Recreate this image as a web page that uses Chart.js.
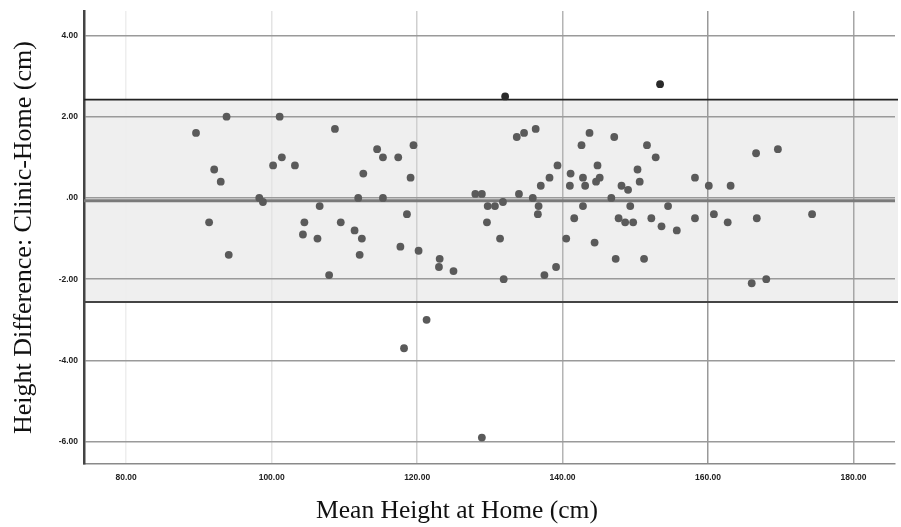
<!DOCTYPE html>
<html lang="en">
<head>
  <meta charset="UTF-8">
  <title>Bland-Altman: Clinic vs Home Height</title>
  <script src="https://cdn.jsdelivr.net/npm/chart.js"></script>
  <style>
    html, body {
      margin: 0;
      background: white;
    }
    canvas {
      display: block;
    }
  </style>
</head>
<body>
  <canvas id="baCanvas" width="901" height="527"></canvas>

  <script>
    // mean of the two measurements (x) and clinic - home difference (y)
    const meanHeight = [
      89.6, 91.4, 92.1, 93.0, 93.8, 94.1, 98.3, 98.8, 100.2, 101.1,
      101.4, 103.2, 104.3, 104.5, 106.3, 106.6, 107.9, 108.7, 109.5, 111.4,
      111.9, 112.1, 112.4, 112.6, 114.5, 115.3, 115.3, 117.4, 117.7, 118.2,
      118.6, 119.1, 119.5, 120.2, 121.3, 123.0, 123.1, 125.0, 128.0, 128.9,
      128.9, 129.6, 129.7, 130.7, 131.4, 131.8, 131.9, 132.1, 133.7, 134.0,
      134.7, 135.9, 136.3, 136.6, 136.7, 137.0, 137.5, 138.2, 139.1, 139.3,
      140.5, 141.0, 141.1, 141.6, 142.6, 142.8, 142.8, 143.1, 143.7, 144.4,
      144.6, 144.8, 145.1, 146.7, 147.1, 147.3, 147.7, 148.1, 148.6, 149.0,
      149.3, 149.7, 150.3, 150.6, 151.2, 151.6, 152.2, 152.8, 153.4, 153.6,
      154.5, 155.7, 158.2, 158.2, 160.1, 160.8, 162.7, 163.1, 166.0, 166.6,
      166.7, 168.0, 169.6, 174.3
    ];
    const heightDiff = [
      1.6, -0.6, 0.7, 0.4, 2.0, -1.4, 0.0, -0.1, 0.8, 2.0,
      1.0, 0.8, -0.9, -0.6, -1.0, -0.2, -1.9, 1.7, -0.6, -0.8,
      0.0, -1.4, -1.0, 0.6, 1.2, 1.0, 0.0, 1.0, -1.2, -3.7,
      -0.4, 0.5, 1.3, -1.3, -3.0, -1.7, -1.5, -1.8, 0.1, 0.1,
      -5.9, -0.6, -0.2, -0.2, -1.0, -0.1, -2.0, 2.5, 1.5, 0.1,
      1.6, 0.0, 1.7, -0.4, -0.2, 0.3, -1.9, 0.5, -1.7, 0.8,
      -1.0, 0.3, 0.6, -0.5, 1.3, 0.5, -0.2, 0.3, 1.6, -1.1,
      0.4, 0.8, 0.5, 0.0, 1.5, -1.5, -0.5, 0.3, -0.6, 0.2,
      -0.2, -0.6, 0.7, 0.4, -1.5, 1.3, -0.5, 1.0, 2.8, -0.7,
      -0.2, -0.8, 0.5, -0.5, 0.3, -0.4, -0.6, 0.3, -2.1, 1.1,
      -0.5, -2.0, 1.2, -0.4
    ];

    const meanDiff = -0.07;
    const upperLoA = 2.42;
    const lowerLoA = -2.56;

    const xTicks = [80, 100, 120, 140, 160, 180];
    const xTickLabels = ['80.00', '100.00', '120.00', '140.00', '160.00', '180.00'];
    const yTicks = [4, 2, 0, -2, -4, -6];
    const yTickLabels = ['4.00', '2.00', '.00', '-2.00', '-4.00', '-6.00'];

    const points = meanHeight.map((x, i) => ({ x, y: heightDiff[i] }));

    // shaded band + limit / mean lines
    const loaPlugin = {
      id: 'loa',
      beforeDraw(chart) {
        const { ctx, chartArea: a, scales: { y } } = chart;
        const top = y.getPixelForValue(upperLoA);
        const bot = y.getPixelForValue(lowerLoA);
        ctx.save();
        ctx.fillStyle = '#efefef';
        ctx.fillRect(a.left, top, a.right + 3 - a.left, bot - top);
        ctx.restore();
      },
      beforeDatasetsDraw(chart) {
        const { ctx, chartArea: a, scales: { y } } = chart;
        const line = (v, color, w, extra) => {
          const py = y.getPixelForValue(v);
          ctx.beginPath();
          ctx.moveTo(a.left, py);
          ctx.lineTo(a.right + extra, py);
          ctx.strokeStyle = color;
          ctx.lineWidth = w;
          ctx.stroke();
        };
        ctx.save();
        line(meanDiff, '#7a7a7a', 3, 0);
        line(upperLoA, '#222', 1.6, 3);
        line(lowerLoA, '#444', 2, 3);
        ctx.restore();
      }
    };

    const vGridColors = { 80: '#eeeeee', 100: '#e4e4e4', 120: '#cfcfcf', 140: '#b4b4b4', 160: '#999999', 180: '#a6a6a6' };

    const ctx = document.getElementById('baCanvas').getContext('2d');
    const chart = new Chart(ctx, {
      type: 'scatter',
      data: {
        datasets: [{
          label: 'Difference',
          data: points,
          pointRadius: 3.9,
          pointHoverRadius: 3.9,
          borderWidth: 0,
          pointBackgroundColor: c => (c.raw && c.raw.y > upperLoA) ? '#2a2a2a' : '#5a5a5a'
        }]
      },
      options: {
        animation: false,
        responsive: false,
        devicePixelRatio: 1,
        layout: {
          padding: { left: 19, right: 6, top: 6, bottom: 1.6 }
        },
        plugins: {
          legend: { display: false },
          tooltip: { enabled: false },
          title: {
            display: true,
            position: 'bottom',
            text: 'Mean Height at Home (cm)',
            color: '#111',
            padding: 0,
            font: { family: "'Liberation Serif', 'Times New Roman', serif", size: 25.5, weight: 'normal', lineHeight: 1.13 }
          }
        },
        scales: {
          x: {
            type: 'linear',
            min: 74.2,
            max: 185.7,
            afterBuildTicks: s => { s.ticks = xTicks.map(v => ({ value: v })); },
            afterFit: s => { s.height = 32.6; },
            ticks: {
              padding: 9,
              color: '#222',
              font: { family: "'Liberation Sans', Arial, sans-serif", size: 8.5, weight: 'bold' },
              callback: v => xTickLabels[xTicks.indexOf(v)]
            },
            grid: {
              drawTicks: false,
              lineWidth: 1.5,
              color: c => vGridColors[c.tick ? c.tick.value : 0] || '#ddd'
            },
            border: { color: '#8a8a8a', width: 1.5 }
          },
          y: {
            type: 'linear',
            min: -6.55,
            max: 4.6,
            afterBuildTicks: s => { s.ticks = yTicks.map(v => ({ value: v })); },
            afterFit: s => { s.width = 65; },
            ticks: {
              padding: 6,
              color: '#222',
              font: { family: "'Liberation Sans', Arial, sans-serif", size: 8.5, weight: 'bold' },
              callback: v => yTickLabels[yTicks.indexOf(v)]
            },
            grid: {
              drawTicks: false,
              lineWidth: 1.5,
              color: '#9a9a9a'
            },
            border: { color: '#444', width: 2.5 },
            title: {
              display: true,
              text: 'Height Difference: Clinic-Home (cm)',
              color: '#111',
              padding: { top: -10, bottom: 0 },
              font: { family: "'Liberation Serif', 'Times New Roman', serif", size: 26, weight: 'normal', lineHeight: 1.2 }
            }
          }
        }
      },
      plugins: [loaPlugin]
    });
  </script>
</body>
</html>
